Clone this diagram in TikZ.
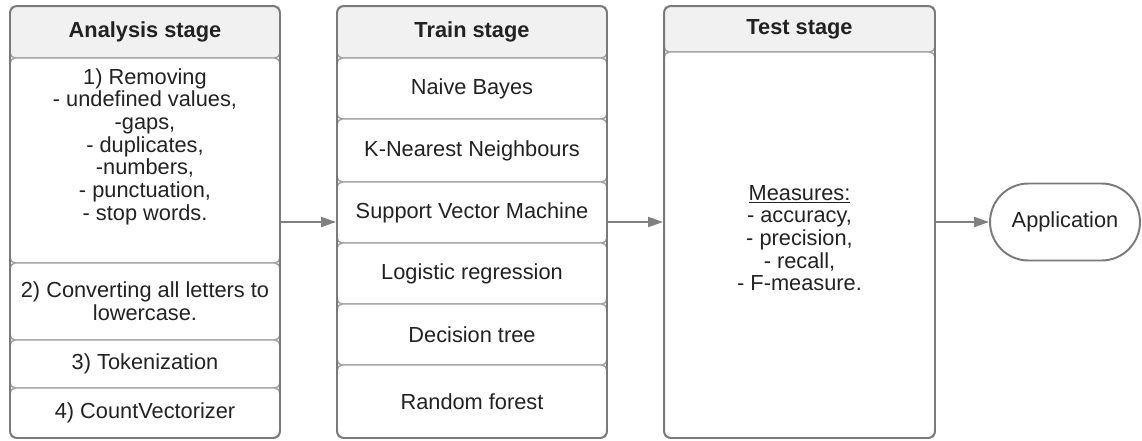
\documentclass[tikz,border=0pt]{standalone}
\usepackage{fontspec}
\setmainfont{Liberation Sans}
\usetikzlibrary{positioning,shapes.misc,arrows.meta}

\definecolor{framegray}{HTML}{7A7A7A}
\definecolor{rowgray}{HTML}{A0A0A0}
\definecolor{headfill}{HTML}{F1F1F1}
\definecolor{inkgray}{HTML}{222222}
\definecolor{arrowgray}{HTML}{808080}

\newcommand{\diagfont}{\fontsize{12.4}{12.9}\selectfont}

\tikzset{
    rowbox/.style={draw=rowgray, line width=0.8pt, fill=white, rounded corners=3pt,
        minimum width=5.4cm, align=center, inner sep=0pt, text=inkgray},
    headbox/.style={rowbox, fill=headfill, font=\diagfont\bfseries},
    framebox/.style={draw=framegray, line width=1.1pt, rounded corners=4pt,
        minimum width=5.4cm, inner sep=0pt},
    flow/.style={draw=arrowgray, line width=1.1pt, -{Triangle[length=0.3cm,width=0.2cm]}},
}

\begin{document}
\begin{tikzpicture}[x=0.02cm, y=-0.02cm, font=\diagfont]
    \useasboundingbox (0,0) rectangle (1142,440);

    % analysis column
    \node (AnaHead) [headbox, minimum height=1.04cm] at (145,32) {Analysis stage};
    \node (Removing) [rowbox, minimum height=4.1cm] at (145,160.5) {};
    \node (RemovingText) [align=center, text=inkgray] at (145,146.5)
    {
        1) Removing\\
        - undefined values,\\
        -gaps,\\
        - duplicates,\\
        -numbers,\\
        - punctuation,\\
        - stop words.
    };
    \node (Lowercase) [rowbox, minimum height=1.54cm] at (145,301.5)
    {2) Converting all letters to\\lowercase.};
    \node (Tokens) [rowbox, minimum height=0.96cm] at (145,364) {3) Tokenization};
    \node (Counter) [rowbox, minimum height=1.0cm] at (145,413) {4) CountVectorizer};
    \node (AnaFrame) [framebox, minimum height=8.64cm] at (145,222) {};

    % train column
    \node (TrainHead) [headbox, minimum height=1.04cm] at (472,32) {Train stage};
    \node (Bayes) [rowbox, minimum height=1.22cm] at (472,88.5) {Naive Bayes};
    \node (Knn) [rowbox, minimum height=1.26cm] at (472,150.5) {K-Nearest Neighbours};
    \node (Svm) [rowbox, minimum height=1.22cm] at (472,212.5) {Support Vector Machine};
    \node (Logit) [rowbox, minimum height=1.22cm] at (472,273.5) {Logistic regression};
    \node (Tree) [rowbox, minimum height=1.22cm] at (472,334.5) {Decision tree};
    \node (Forest) [rowbox, minimum height=1.46cm] at (472,401.5) {Random forest};
    \node (TrainFrame) [framebox, minimum height=8.64cm] at (472,222) {};

    % test column
    \node (TestHead) [headbox, minimum width=5.42cm, minimum height=0.92cm] at (799.5,29) {Test stage};
    \node (Measures) [rowbox, minimum width=5.42cm, minimum height=7.72cm] at (799.5,245) {};
    \node (MeasuresText) [align=center, text=inkgray] at (799.5,238)
    {
        \underline{Measures:}\\
        - accuracy,\\
        - precision,\\
        - recall,\\
        - F-measure.
    };
    \node (TestFrame) [framebox, minimum width=5.42cm, minimum height=8.64cm] at (799.5,222) {};

    \node (App) [draw=framegray, line width=1.1pt, rounded rectangle, minimum width=3.0cm,
        minimum height=1.54cm, inner sep=0pt, text=inkgray] at (1065,222) {Application};

    \draw[flow] (AnaFrame.east) -- (TrainFrame.west);
    \draw[flow] (TrainFrame.east) -- (TestFrame.west);
    \draw[flow] (TestFrame.east) -- (App.west);
\end{tikzpicture}
\end{document}
